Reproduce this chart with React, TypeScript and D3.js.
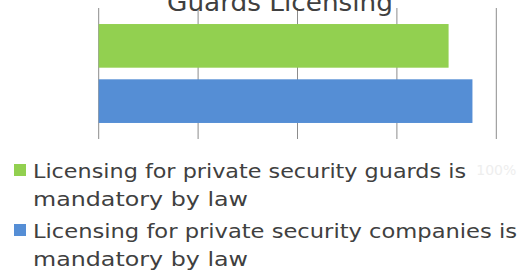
import { useEffect, useRef } from "react";
import * as d3 from "d3";

const title = "Guards Licensing";
const categories = ["guards", "companies"];
const values = [0.88, 0.94];
const colors = ["#92D050", "#558ED5"];
const legendLines = [
  ["Licensing for private security guards is", "mandatory by law"],
  ["Licensing for private security companies is", "mandatory by law"],
];
const ticks = [0, 0.25, 0.5, 0.75, 1];
const tickLabels = ["100%"];

// measured text widths (the original uses a wide geometric face)
const legendWidths = [
  [433, 215],
  [484, 215],
];
const titleWidth = 226;

const W = 524;
const H = 275;
const FONT = "'DejaVu Sans', sans-serif";

const App = () => {
  const svgRef = useRef<SVGSVGElement>(null);

  useEffect(() => {
    if (!svgRef.current) return;
    const svg = d3.select(svgRef.current);
    svg.selectAll("*").remove();

    const x = d3.scaleLinear().domain([0, 1]).range([98.7, 496.3]);
    const y = d3
      .scaleBand()
      .domain(categories)
      .range([8, 139])
      .paddingInner(0.21)
      .paddingOuter(0.29);

    // faint axis label, nearly invisible like the original
    svg
      .append("g")
      .selectAll("text")
      .data(tickLabels)
      .join("text")
      .attr("x", x(1))
      .attr("y", 175)
      .attr("text-anchor", "middle")
      .attr("font-family", FONT)
      .attr("font-size", 14)
      .attr("fill", "#eeeeee")
      .text((d) => d);

    svg
      .append("g")
      .selectAll("line")
      .data(ticks)
      .join("line")
      .attr("x1", (d) => x(d))
      .attr("x2", (d) => x(d))
      .attr("y1", 8)
      .attr("y2", 139)
      .attr("stroke", "#8c8c8c")
      .attr("stroke-width", 1);

    svg
      .append("g")
      .selectAll("rect")
      .data(values)
      .join("rect")
      .attr("x", x(0))
      .attr("y", (_, i) => y(categories[i]) as number)
      .attr("width", (d) => x(d) - x(0))
      .attr("height", y.bandwidth())
      .attr("fill", (_, i) => colors[i]);

    svg
      .append("text")
      .attr("x", 280)
      .attr("y", 11)
      .attr("text-anchor", "middle")
      .attr("font-family", FONT)
      .attr("font-size", 24)
      .attr("fill", "#404040")
      .attr("textLength", titleWidth)
      .attr("lengthAdjust", "spacingAndGlyphs")
      .text(title);

    const lg = svg
      .append("g")
      .selectAll("g")
      .data(legendLines)
      .join("g")
      .attr("transform", (_, i) => `translate(0,${i * 60})`);

    lg.append("rect")
      .attr("x", 14)
      .attr("y", 164)
      .attr("width", 12)
      .attr("height", 12)
      .attr("fill", (_, i) => colors[i]);

    lg.each(function (lines, i) {
      d3.select(this)
        .selectAll("text")
        .data(lines)
        .join("text")
        .attr("x", 33)
        .attr("y", (_, j) => 178 + j * 28)
        .attr("font-family", FONT)
        .attr("font-size", 19)
        .attr("fill", "#404040")
        .attr("textLength", (_, j) => legendWidths[i][j])
        .attr("lengthAdjust", "spacingAndGlyphs")
        .text((d) => d);
    });
  }, []);

  return (
    <svg
      ref={svgRef}
      width={W}
      height={H}
      style={{ position: "absolute", left: 0, top: 0, background: "#fff" }}
    ></svg>
  );
};

export default App;
